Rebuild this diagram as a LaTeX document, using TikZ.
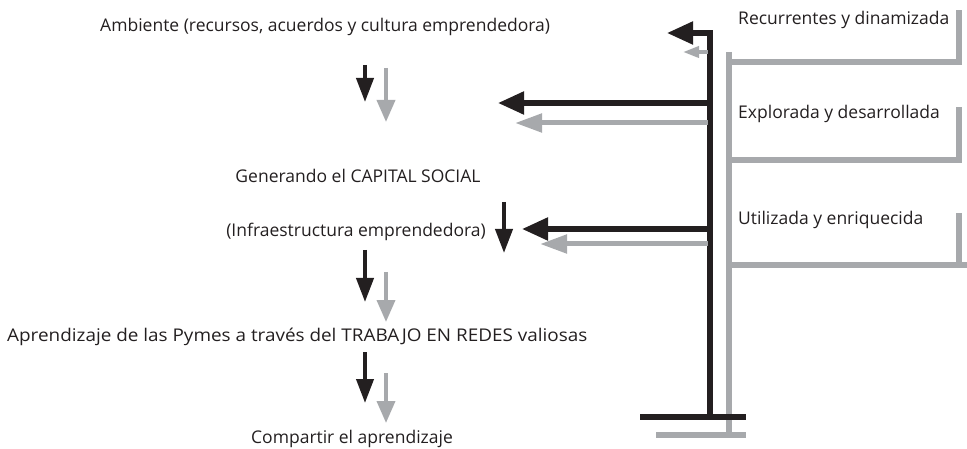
\documentclass[tikz,border=0pt]{standalone}
\usepackage{fontspec}
\setmainfont{Open Sans}
\usetikzlibrary{arrows.meta}
\definecolor{blk}{HTML}{231F20}
\definecolor{gry}{HTML}{A7A9AC}
\begin{document}
\begin{tikzpicture}[x=1pt,y=-1pt,
  lbl/.style={font=\fontsize{17.5}{20}\selectfont, text=blk, inner sep=0pt, anchor=base west},
  bl/.style={draw=blk, line width=5.2pt},
  gl/.style={draw=gry, line width=5.4pt},
  bdown/.style={draw=blk, line width=4pt, -{Triangle[length=24pt,width=17pt]}},
  gdown/.style={draw=gry, line width=3.8pt, -{Triangle[length=22pt,width=18pt]}},
  bleft/.style={bl, -{Triangle[length=26pt,width=22pt]}},
  gleft/.style={draw=gry, line width=5pt, -{Triangle[length=27pt,width=18pt]}},
  gsmall/.style={draw=gry, line width=3.6pt, -{Triangle[length=16pt,width=11pt]}}
]
\useasboundingbox (0,0) rectangle (967,449);

% texts
\node[lbl] (amb) at (100,32) {Ambiente (recursos, acuerdos y cultura emprendedora)};
\node[lbl, anchor=base] (gen) at (358,183) {Generando el CAPITAL SOCIAL};
\node[lbl, anchor=base east] (inf) at (486,237) {(Infraestructura emprendedora)};
\node[lbl] (apr) at (7,341) {\scalebox{1.08}[1]{Aprendizaje de las Pymes a través del TRABAJO EN REDES valiosas}};
\node[lbl, anchor=base] (com) at (352,443) {Compartir el aprendizaje};
\node[lbl] (rec) at (738,25) {Recurrentes y dinamizada};
\node[lbl] (exp) at (738,119) {Explorada y desarrollada};
\node[lbl] (uti) at (738,225) {Utilizada y enriquecida};

% structure coordinates
\coordinate (bbot) at (710,417);
\coordinate (bl1) at (640,417);
\coordinate (br1) at (746,417);
\coordinate (gtop) at (729,52);
\coordinate (gbot) at (729,435);
\coordinate (gbl) at (656,435);
\coordinate (gbr) at (746,435);

% grey brackets
\draw[gl] (gtop) -- (gbot);
\draw[gl] (gbl) -- (gbr);
\draw[gl] (729,62) -- (959,62) -- (959,10);
\draw[gl] (729,160) -- (959,160) -- (959,107);
\draw[gl] (729,265) -- (959,265) -- (959,213);
\draw[gl] (959,265) -- (967,265);
\draw[gl] (959,160) -- (962,160);
\draw[gl] (959,62) -- (962,62);

% black spine
\coordinate (t1) at (667,33);
\draw[bleft] (bbot) |- (t1);
\draw[bl] (bl1) -- (br1);

% horizontal arrows
\coordinate (s0) at (708,52);  \coordinate (t0) at (683,52);
\draw[gsmall] (s0) -- (t0);
\coordinate (s2) at (712,103); \coordinate (t2) at (498,103);
\draw[bleft] (s2) -- (t2);
\coordinate (s2g) at (708,123); \coordinate (t2g) at (515,123);
\draw[gleft] (s2g) -- (t2g);
\coordinate (s3) at (712,229); \coordinate (t3) at (522,229);
\draw[bleft] (s3) -- (t3);
\coordinate (s3g) at (708,244); \coordinate (t3g) at (540,244);
\draw[gleft] (s3g) -- (t3g);

% down arrows
\coordinate (d1a) at (365,65);  \coordinate (d1b) at (365,102);
\draw[bdown] (d1a) -- (d1b);
\coordinate (e1a) at (386,68);  \coordinate (e1b) at (386,122);
\draw[gdown] (e1a) -- (e1b);
\coordinate (d2a) at (365,250); \coordinate (d2b) at (365,302);
\draw[bdown] (d2a) -- (d2b);
\coordinate (e2a) at (386,272); \coordinate (e2b) at (386,322);
\draw[gdown] (e2a) -- (e2b);
\coordinate (d3a) at (365,352); \coordinate (d3b) at (365,403);
\draw[bdown] (d3a) -- (d3b);
\coordinate (e3a) at (386,373); \coordinate (e3b) at (386,423);
\draw[gdown] (e3a) -- (e3b);
\coordinate (d4a) at (504,202); \coordinate (d4b) at (504,253);
\draw[bdown] (d4a) -- (d4b);
\end{tikzpicture}
\end{document}
